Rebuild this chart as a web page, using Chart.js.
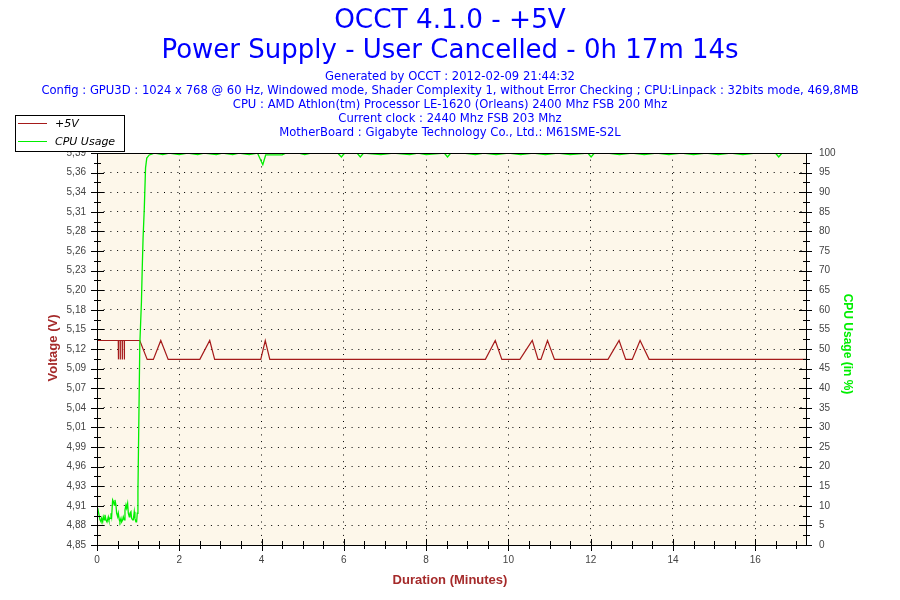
<!DOCTYPE html>
<html>
<head>
<meta charset="utf-8">
<title>OCCT 4.1.0 - +5V</title>
<script src="https://cdn.jsdelivr.net/npm/chart.js@4.4.0/dist/chart.umd.min.js"></script>
<style>
  html, body { margin: 0; padding: 0; background: #fff; }
  canvas { display: block; }
</style>
</head>
<body>
<canvas id="graph" width="900" height="600"></canvas>
<script>
// +5V readings (minutes, volts)
const voltTimes = [0, 0.51, 0.517, 0.52, 0.523, 0.562, 0.565, 0.568, 0.612, 0.615, 0.618,
    0.662, 0.665, 0.668,
    1.04, 1.22, 1.37, 1.55, 1.73, 2.50, 2.74, 2.86, 3.98, 4.09, 4.20,
    9.44, 9.68, 9.84, 10.28, 10.58, 10.72, 10.79, 10.95, 11.12,
    12.42, 12.69, 12.85, 13.01, 13.20, 13.42, 17.23];
const voltValues = [5.133, 5.133, 5.133, 5.107, 5.133, 5.133, 5.107, 5.133, 5.133, 5.107, 5.133,
    5.133, 5.107, 5.133,
    5.133, 5.107, 5.107, 5.133, 5.107, 5.107, 5.133, 5.107, 5.107, 5.133, 5.107,
    5.107, 5.133, 5.107, 5.107, 5.133, 5.107, 5.107, 5.133, 5.107,
    5.107, 5.133, 5.107, 5.107, 5.133, 5.107, 5.107];

// CPU usage (minutes, %)
const cpuTimes = [0.016, 0.049, 0.073, 0.097, 0.113, 0.138, 0.154, 0.178, 0.194, 0.218,
    0.243, 0.275, 0.291, 0.316, 0.340, 0.356, 0.380, 0.397, 0.421, 0.437,
    0.461, 0.477, 0.502, 0.518, 0.542, 0.558, 0.583, 0.599, 0.623, 0.639,
    0.663, 0.680, 0.704, 0.720, 0.744, 0.761, 0.785, 0.801, 0.825, 0.841,
    0.866, 0.882, 0.906, 0.922, 0.946, 0.963, 0.979, 0.995, 1.01, 1.04,
    1.08, 1.10, 1.12, 1.15, 1.18, 1.21, 1.27, 1.33, 1.40, 1.6,
    1.75, 2.0, 2.2, 2.45, 2.6, 2.9, 3.05, 3.3, 3.45, 3.7,
    3.9, 4.03, 4.10, 4.5, 4.6, 4.9, 5.05, 5.2, 5.85, 5.94,
    6.02, 6.32, 6.40, 6.48, 6.9, 7.2, 7.6, 7.8, 8.0, 8.44,
    8.52, 8.60, 8.9, 9.2, 9.4, 9.7, 10.0, 10.3, 10.6, 10.9,
    11.2, 11.5, 11.93, 12.01, 12.09, 12.4, 12.7, 13.0, 13.3, 13.6,
    13.9, 14.2, 14.5, 14.8, 15.1, 15.4, 15.7, 16.0, 16.49, 16.57,
    16.65, 16.9, 17.23];
const cpuValues = [9.4, 7.7, 6.4, 5.9, 6.8, 5.9, 7.2, 6.4, 7.7, 6.4,
    5.9, 7.2, 6.4, 6.8, 8.1, 7.2, 11.5, 11.1, 10.2, 11.5,
    10.2, 8.1, 7.2, 8.1, 6.4, 5.9, 6.8, 5.9, 6.4, 7.2,
    6.4, 8.9, 10.2, 9.4, 10.6, 8.1, 7.2, 8.1, 8.5, 6.8,
    6.4, 6.4, 8.5, 6.8, 5.9, 5.9, 8.1, 13.5, 26, 51,
    62, 70.7, 78.3, 86, 96.2, 98.7, 99.5, 99.7, 100, 99.6,
    100, 99.6, 100, 99.6, 100, 99.6, 100, 99.6, 100, 99.6,
    100, 97, 99.5, 99.5, 100, 100, 99.6, 100, 100, 99,
    100, 100, 99, 100, 99.6, 100, 99.6, 100, 99.6, 100,
    99, 100, 100, 99.6, 100, 99.6, 100, 99.6, 100, 99.6,
    100, 99.6, 100, 99, 100, 100, 99.6, 100, 99.6, 100,
    99.6, 100, 99.6, 100, 99.6, 100, 99.6, 100, 100, 99,
    100, 100, 100];

const timeTicks = [0, 2, 4, 6, 8, 10, 12, 14, 16];
const voltTickLabels = ['4,85', '4,88', '4,91', '4,93', '4,96', '4,99', '5,01', '5,04', '5,07', '5,09', '5,12',
    '5,15', '5,18', '5,20', '5,23', '5,26', '5,28', '5,31', '5,34', '5,36', '5,39'];
const cpuTicks = [0, 5, 10, 15, 20, 25, 30, 35, 40, 45, 50, 55, 60, 65, 70, 75, 80, 85, 90, 95, 100];

const titleLines = ['OCCT 4.1.0 - +5V', 'Power Supply - User Cancelled - 0h 17m 14s'];
const infoLines = [
    'Generated by OCCT : 2012-02-09 21:44:32',
    'Config : GPU3D : 1024 x 768 @ 60 Hz, Windowed mode, Shader Complexity 1, without Error Checking ; CPU:Linpack : 32bits mode, 469,8MB',
    'CPU : AMD Athlon(tm) Processor LE-1620 (Orleans) 2400 Mhz FSB 200 Mhz',
    'Current clock : 2440 Mhz FSB 203 Mhz',
    'MotherBoard : Gigabyte Technology Co., Ltd.: M61SME-S2L'
];

const voltMin = 4.8513;
const voltStep = 0.027;
const voltMax = voltMin + voltStep * (voltTickLabels.length - 1);
const timeMax = 17.233;

const voltColor = '#a51a1a';
const cpuColor = '#00ee00';
const titleColor = '#0000ff';
const axisTitleColor = '#a52a2a';

Chart.defaults.font.family = "'Liberation Sans', Arial, sans-serif";

const occtFrame = {
    id: 'occtFrame',
    beforeDraw(chart) {
        const {ctx, chartArea: a} = chart;
        ctx.save();
        ctx.fillStyle = '#ffffff';
        ctx.fillRect(0, 0, chart.width, chart.height);
        ctx.fillStyle = '#fdf7ea';
        ctx.fillRect(a.left, a.top, a.right - a.left, a.bottom - a.top);
        ctx.restore();
    },
    afterDraw(chart) {
        const {ctx, chartArea: a, scales} = chart;
        ctx.save();

        // frame and tick marks
        ctx.strokeStyle = '#000';
        ctx.lineWidth = 1;
        ctx.strokeRect(a.left + 0.5, a.top + 0.5, a.right - a.left, a.bottom - a.top);
        ctx.beginPath();
        for (let i = 0; i < voltTickLabels.length; i++) {
            const py = Math.round(scales.y.getPixelForValue(voltMin + i * voltStep)) + 0.5;
            ctx.moveTo(a.left - 6, py);
            ctx.lineTo(a.left + 7, py);
            if (i < voltTickLabels.length - 1) {
                const my = Math.round(scales.y.getPixelForValue(voltMin + (i + 0.5) * voltStep)) + 0.5;
                ctx.moveTo(a.left - 3, my);
                ctx.lineTo(a.left + 4, my);
            }
        }
        for (let i = 0; i < cpuTicks.length; i++) {
            const py = Math.round(scales.y2.getPixelForValue(cpuTicks[i])) + 0.5;
            ctx.moveTo(a.right - 7, py);
            ctx.lineTo(a.right + 6, py);
            if (i < cpuTicks.length - 1) {
                const my = Math.round(scales.y2.getPixelForValue((cpuTicks[i] + cpuTicks[i + 1]) / 2)) + 0.5;
                ctx.moveTo(a.right - 3, my);
                ctx.lineTo(a.right + 4, my);
            }
        }
        for (let t = 0; t <= timeMax; t += 0.5) {
            const px = Math.round(scales.x.getPixelForValue(t)) + 0.5;
            const big = timeTicks.includes(t);
            ctx.moveTo(px, a.bottom - (big ? 6 : 4));
            ctx.lineTo(px, a.bottom + (big ? 6 : 4));
        }
        ctx.stroke();

        // legend
        ctx.fillStyle = '#fff';
        ctx.fillRect(15, 115, 109, 37);
        ctx.strokeRect(15.5, 115.5, 109, 36);
        ctx.lineWidth = 1;
        ctx.strokeStyle = voltColor;
        ctx.beginPath(); ctx.moveTo(18, 123.5); ctx.lineTo(47, 123.5); ctx.stroke();
        ctx.strokeStyle = cpuColor;
        ctx.beginPath(); ctx.moveTo(18, 141.5); ctx.lineTo(47, 141.5); ctx.stroke();
        ctx.fillStyle = '#000';
        ctx.font = "italic 11px 'DejaVu Sans'";
        ctx.textAlign = 'left';
        ctx.textBaseline = 'middle';
        ctx.fillText('+5V', 55, 124);
        ctx.fillText('CPU Usage', 55, 142);

        // header
        ctx.textAlign = 'center';
        ctx.fillStyle = titleColor;
        ctx.font = "26.3px 'DejaVu Sans'";
        ctx.fillText(titleLines[0], 450, 21);
        ctx.font = "26px 'DejaVu Sans'";
        ctx.fillText(titleLines[1], 450, 51);
        ctx.font = "11.6px 'DejaVu Sans'";
        infoLines.forEach((line, i) => ctx.fillText(line, 450, 77 + i * 14));

        // axis titles
        ctx.font = "bold 13px 'Liberation Sans'";
        ctx.fillStyle = axisTitleColor;
        ctx.fillText('Duration (Minutes)', 450, 580);
        ctx.save();
        ctx.translate(53, 348);
        ctx.rotate(-Math.PI / 2);
        ctx.fillText('Voltage (V)', 0, 0);
        ctx.restore();
        ctx.save();
        ctx.fillStyle = cpuColor;
        ctx.font = "bold 12px 'Liberation Sans'";
        ctx.translate(847, 344);
        ctx.rotate(Math.PI / 2);
        ctx.fillText('CPU Usage (in %)', 0, 0);
        ctx.restore();

        ctx.restore();
    }
};

const tickFont = {family: "'Liberation Sans', Arial, sans-serif", size: 10};

new Chart(document.getElementById('graph'), {
    type: 'line',
    data: {
        datasets: [{
            label: 'CPU Usage',
            data: cpuTimes.map((t, i) => ({x: t, y: cpuValues[i]})),
            yAxisID: 'y2',
            borderColor: cpuColor,
            borderWidth: 1.3,
            pointRadius: 0,
            tension: 0,
            order: 0
        }, {
            label: '+5V',
            data: voltTimes.map((t, i) => ({x: t, y: voltValues[i]})),
            yAxisID: 'y',
            borderColor: voltColor,
            borderWidth: 1.2,
            pointRadius: 0,
            tension: 0,
            order: 1
        }]
    },
    options: {
        responsive: false,
        animation: false,
        devicePixelRatio: 1,
        layout: {padding: {top: 153, left: 0, right: 0, bottom: 0}},
        plugins: {legend: {display: false}, tooltip: {enabled: false}, title: {display: false}},
        scales: {
            x: {
                type: 'linear',
                min: 0,
                max: timeMax,
                afterBuildTicks: s => { s.ticks = timeTicks.map(v => ({value: v})); },
                afterFit: s => { s.height = 55; },
                grid: {color: '#000', lineWidth: 1, drawTicks: false},
                border: {display: false, dash: [1, 5.7]},
                ticks: {padding: 9, color: '#444', font: tickFont, maxRotation: 0, autoSkip: false,
                    callback: v => String(v)}
            },
            y: {
                type: 'linear',
                position: 'left',
                min: voltMin,
                max: voltMax,
                afterBuildTicks: s => { s.ticks = voltTickLabels.map((_, i) => ({value: voltMin + i * voltStep})); },
                afterFit: s => { s.width = 97; },
                grid: {color: '#000', lineWidth: 1, drawTicks: false},
                border: {display: false, dash: [1, 5.7]},
                ticks: {padding: 11, color: '#444', font: tickFont, autoSkip: false,
                    callback: (v, i) => voltTickLabels[i]}
            },
            y2: {
                type: 'linear',
                position: 'right',
                min: 0,
                max: 100,
                afterBuildTicks: s => { s.ticks = cpuTicks.map(v => ({value: v})); },
                afterFit: s => { s.width = 94; },
                grid: {display: false, drawTicks: false},
                border: {display: false},
                ticks: {padding: 13, color: '#444', font: tickFont, autoSkip: false,
                    callback: v => String(v)}
            }
        }
    },
    plugins: [occtFrame]
});
</script>
</body>
</html>
